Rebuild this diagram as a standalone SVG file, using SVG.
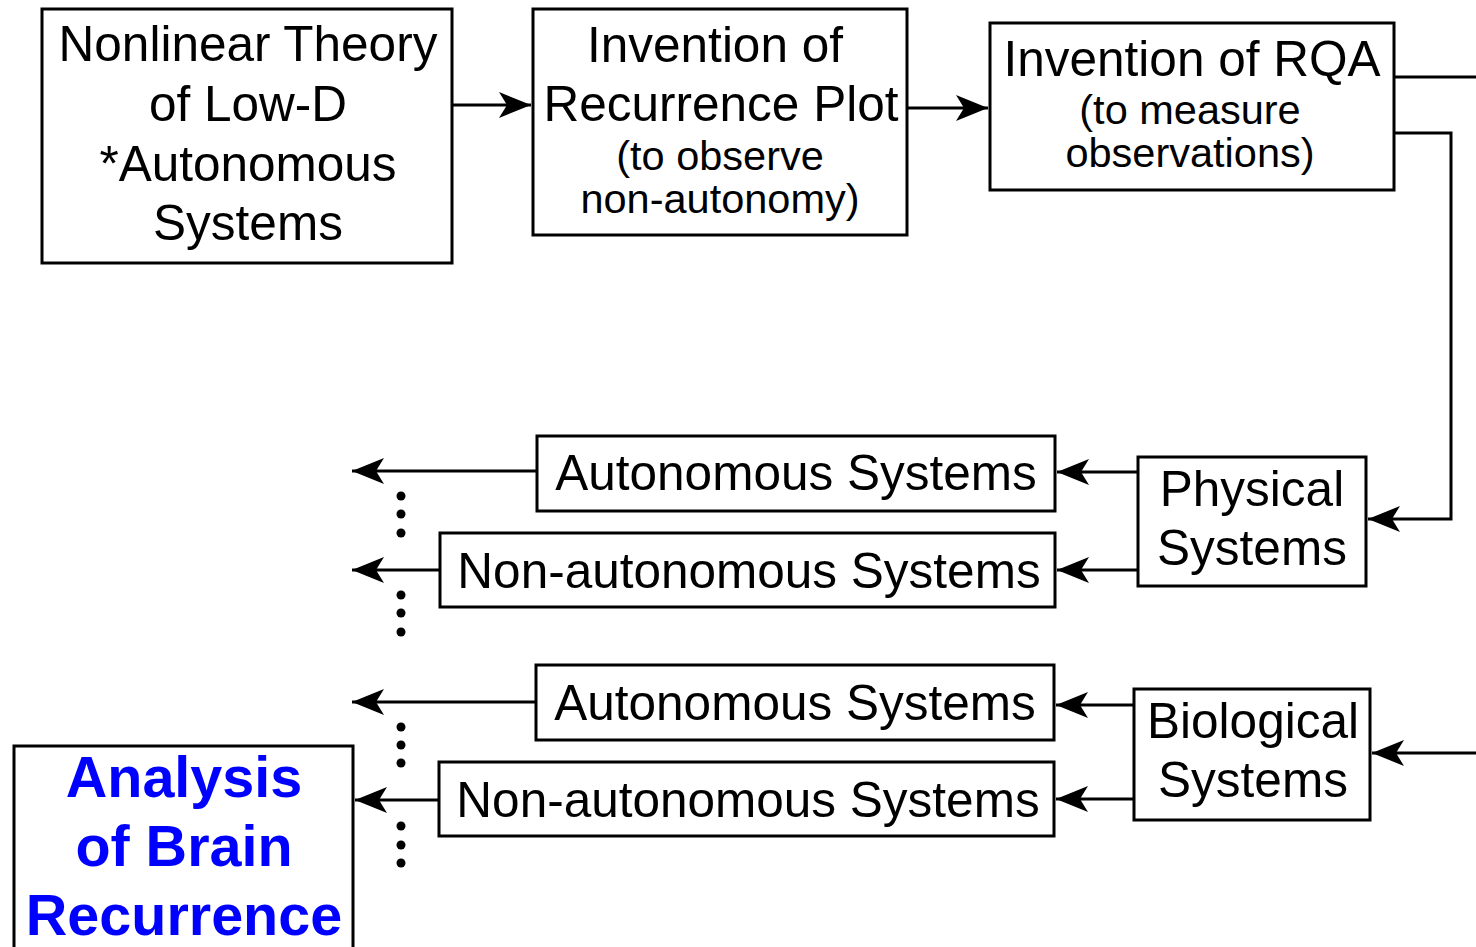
<svg xmlns="http://www.w3.org/2000/svg" width="1476" height="947" viewBox="0 0 1476 947">
<style>
.box{fill:#fff;stroke:#000;stroke-width:3}
.t{font-family:"Liberation Sans",Arial,sans-serif;font-size:49.5px;fill:#000;text-anchor:middle}
.s{font-family:"Liberation Sans",Arial,sans-serif;font-size:41.5px;fill:#000;text-anchor:middle}
.b{font-family:"Liberation Sans",Arial,sans-serif;font-size:57.5px;font-weight:bold;fill:#0000FF;text-anchor:middle}
.c{fill:none;stroke:#000;stroke-width:3}
</style>
<defs>
<marker id="ah" markerUnits="userSpaceOnUse" markerWidth="34" markerHeight="28" refX="32" refY="13" orient="auto" overflow="visible">
<path d="M32,13 L0,0 L8,13 L0,26 Z" fill="#000"/>
</marker>
</defs>
<rect width="1476" height="947" fill="#fff"/>
<g id="connectors">
<path class="c" d="M452,105 L531,105" marker-end="url(#ah)"/>
<path class="c" d="M907,108 L988,108" marker-end="url(#ah)"/>
<path class="c" d="M1394,77 L1476,77"/>
<path class="c" d="M1394,133 L1451,133 L1451,519 L1368,519" marker-end="url(#ah)"/>
<path class="c" d="M1138,472 L1057,472" marker-end="url(#ah)"/>
<path class="c" d="M1138,570 L1057,570" marker-end="url(#ah)"/>
<path class="c" d="M537,471 L352,471" marker-end="url(#ah)"/>
<path class="c" d="M440,570 L352,570" marker-end="url(#ah)"/>
<path class="c" d="M1476,753 L1372,753" marker-end="url(#ah)"/>
<path class="c" d="M1134,705 L1056,705" marker-end="url(#ah)"/>
<path class="c" d="M1134,799 L1056,799" marker-end="url(#ah)"/>
<path class="c" d="M536,702 L352,702" marker-end="url(#ah)"/>
<path class="c" d="M439,800 L355,800" marker-end="url(#ah)"/>
<g fill="#000">
<circle cx="401" cy="496" r="4.5"/><circle cx="401" cy="514" r="4.5"/><circle cx="401" cy="533" r="4.5"/>
<circle cx="401" cy="595" r="4.5"/><circle cx="401" cy="613" r="4.5"/><circle cx="401" cy="632" r="4.5"/>
<circle cx="401" cy="727" r="4.5"/><circle cx="401" cy="745" r="4.5"/><circle cx="401" cy="763" r="4.5"/>
<circle cx="401" cy="826" r="4.5"/><circle cx="401" cy="845" r="4.5"/><circle cx="401" cy="863" r="4.5"/>
</g>
</g>
<g id="nonlinear">
<rect class="box" x="42" y="9" width="410" height="254"/>
<text class="t" x="248" y="61">Nonlinear Theory</text>
<text class="t" x="248" y="121">of Low-D</text>
<text class="t" x="248" y="181">*Autonomous</text>
<text class="t" x="248" y="240">Systems</text>
</g>
<g id="recplot">
<rect class="box" x="533" y="9" width="374" height="226"/>
<text class="t" x="715" y="62">Invention of</text>
<text class="t" x="721" y="121">Recurrence Plot</text>
<text class="s" x="720" y="170">(to observe</text>
<text class="s" x="720" y="213">non-autonomy)</text>
</g>
<g id="rqa">
<rect class="box" x="990" y="23" width="404" height="167"/>
<text class="t" x="1192" y="76">Invention of RQA</text>
<text class="s" x="1190" y="124">(to measure</text>
<text class="s" x="1190" y="167">observations)</text>
</g>
<g id="physical">
<rect class="box" x="1138" y="457" width="228" height="129"/>
<text class="t" x="1252" y="506">Physical</text>
<text class="t" x="1252" y="565">Systems</text>
</g>
<g id="phys-auto">
<rect class="box" x="537" y="436" width="518" height="75"/>
<text class="t" x="796" y="490">Autonomous Systems</text>
</g>
<g id="phys-nonauto">
<rect class="box" x="440" y="533" width="615" height="74"/>
<text class="t" x="749" y="588">Non-autonomous Systems</text>
</g>
<g id="biological">
<rect class="box" x="1134" y="689" width="236" height="131"/>
<text class="t" x="1253" y="738">Biological</text>
<text class="t" x="1253" y="797">Systems</text>
</g>
<g id="bio-auto">
<rect class="box" x="536" y="665" width="518" height="75"/>
<text class="t" x="795" y="720">Autonomous Systems</text>
</g>
<g id="bio-nonauto">
<rect class="box" x="439" y="762" width="615" height="74"/>
<text class="t" x="748" y="817">Non-autonomous Systems</text>
</g>
<g id="analysis">
<rect class="box" x="14" y="746" width="339" height="220"/>
<text class="b" x="184" y="797">Analysis</text>
<text class="b" x="184" y="866">of Brain</text>
<text class="b" x="184" y="935">Recurrence</text>
</g>
</svg>
